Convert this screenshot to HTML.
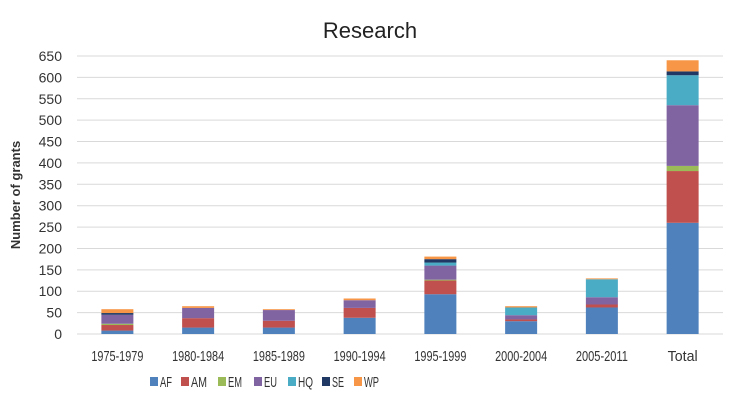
<!DOCTYPE html>
<html><head><meta charset="utf-8"><style>
body{margin:0;background:#fff}
svg{display:block;font-family:"Liberation Sans",sans-serif}
</style></head><body>
<svg id="chart" width="742" height="413" viewBox="0 0 742 413">
<text x="370" y="38" text-anchor="middle" font-size="22" fill="#222">Research</text>
<text transform="translate(20,195) rotate(-90)" text-anchor="middle" font-size="13" font-weight="bold" fill="#333">Number of grants</text>
<g id="grid"></g><g id="bars"></g><g id="xl"></g><g id="legend"></g>
</svg>
<script>
const categories=["1975-1979","1980-1984","1985-1989","1990-1994","1995-1999","2000-2004","2005-2011","Total"];
const seriesNames=["AF","AM","EM","EU","HQ","SE","WP"];
const colors=["#4f81bd","#c0504d","#9bbb59","#8064a2","#4bacc6","#1f3864","#f79646"];
const AF=[8,15,15,38,93,30,62,260];
const AM=[13,22,16,23,32,4,7,121];
const EM=[3,0,0,0,2,0,0,12];
const EU=[21,24,25,18,33,10,17,142];
const HQ=[0,0,0,0,7,18,42,70];
const SE=[4,0,0,0,8,0,0,9];
const WP=[9,4,2,4,6,3,2,26];
const series=[AF,AM,EM,EU,HQ,SE,WP];
const yTicks=[0,50,100,150,200,250,300,350,400,450,500,550,600,650];
const NS="http://www.w3.org/2000/svg";
const x0=77,pw=646,yBase=334,yTop=56,yMax=650;
const y=v=>yBase-(v/yMax)*(yBase-yTop);
const bw=80.75;
const xc=i=>x0+bw*(i+0.5);
function mk(t,a,p){const e=document.createElementNS(NS,t);for(const k in a)e.setAttribute(k,a[k]);p.appendChild(e);return e;}
const grid=document.getElementById('grid');
yTicks.forEach(t=>{
 const l=mk('line',{x1:x0,x2:x0+pw,y1:y(t),y2:y(t),stroke:'#d9d9d9','stroke-width':1},grid);
 
 
 const tx=mk('text',{x:62,y:y(t)+5,'text-anchor':'end','font-size':14,fill:'#333'},grid);
 tx.textContent=t;
 
 
});
const bars=document.getElementById('bars');
categories.forEach((c,i)=>{
 let acc=0;
 series.forEach((s,j)=>{
  const v=s[i];if(!v){return;}
  const r=mk('rect',{x:xc(i)-16,width:32,y:y(acc+v),height:y(acc)-y(acc+v),fill:colors[j]},bars);
  
  
  acc+=v;
 });
 const t=mk('text',{x:xc(i),y:361,'text-anchor':'middle','font-size':15,fill:'#333'},document.getElementById('xl'));
 t.setAttribute('textLength',c!=="Total"?52:30);
 t.setAttribute('lengthAdjust','spacingAndGlyphs');
 t.textContent=c;
 
 
});
const lg=document.getElementById('legend');
const lx=[150,181,218,254,288,322,354];
const lw=[12,16,14,13,15,12,15];
seriesNames.forEach((n,j)=>{
 const g=mk('g',{},lg);
 
 
 mk('rect',{x:lx[j],y:377,width:8,height:9,fill:colors[j]},g);
 const t=mk('text',{x:lx[j]+10,y:387,'font-size':15,fill:'#333',textLength:lw[j],lengthAdjust:'spacingAndGlyphs'},g);
 t.textContent=n;
});
</script>
</body></html>
